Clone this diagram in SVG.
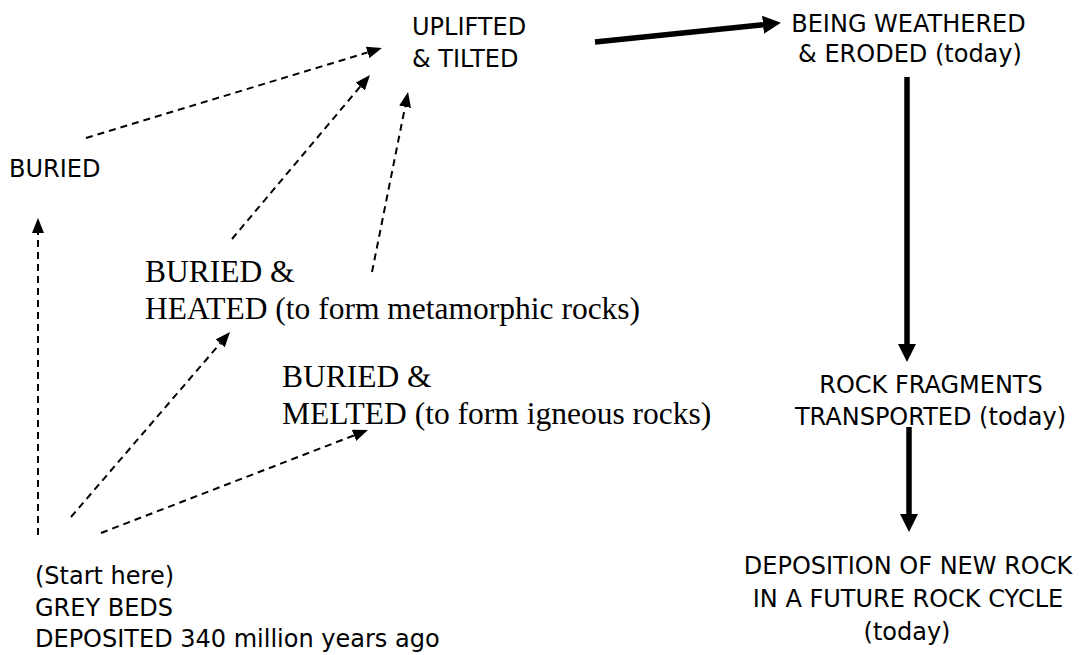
<svg xmlns="http://www.w3.org/2000/svg" width="1083" height="655" viewBox="0 0 1083 655">
<style>
.s{font-family:"DejaVu Sans",Verdana,sans-serif;font-size:24px;fill:#000}
.r{font-family:"Liberation Serif","Times New Roman",serif;font-size:31.5px;fill:#000}
.m{text-anchor:middle}
.d{stroke:#000;stroke-width:2;stroke-dasharray:7 5;fill:none}
.t{stroke:#000;stroke-width:5.5;fill:none}
</style>
<defs>
<marker id="ad" markerUnits="userSpaceOnUse" viewBox="0 0 15 12" refX="0" refY="6" markerWidth="15" markerHeight="12" orient="auto"><path d="M0,0 L15,6 L0,12 z" fill="#000"/></marker>
<marker id="at" markerUnits="userSpaceOnUse" viewBox="0 0 18 18" refX="0" refY="9" markerWidth="18" markerHeight="18" orient="auto"><path d="M0,0 L18,9 L0,18 z" fill="#000"/></marker>
</defs>
<rect width="1083" height="655" fill="#fff"/>
<g id="connectors">
<line class="d" x1="86" y1="138" x2="367.6" y2="52.4" marker-end="url(#ad)"/>
<line class="d" x1="232" y1="239" x2="360.3" y2="86.5" marker-end="url(#ad)"/>
<line class="d" x1="372" y1="272" x2="405.1" y2="106.7" marker-end="url(#ad)"/>
<line class="d" x1="38" y1="535" x2="38" y2="233" marker-end="url(#ad)"/>
<line class="d" x1="71" y1="517" x2="220.2" y2="343.4" marker-end="url(#ad)"/>
<line class="d" x1="101" y1="533" x2="354" y2="435.4" marker-end="url(#ad)"/>
<line class="t" x1="595" y1="42" x2="763" y2="24.7" marker-end="url(#at)"/>
<line class="t" x1="907" y1="77" x2="907" y2="344" marker-end="url(#at)"/>
<line class="t" x1="909" y1="427" x2="909" y2="514" marker-end="url(#at)"/>
</g>
<g id="uplifted"><text class="s" x="412" y="35">UPLIFTED</text><text class="s" x="412" y="67">&amp; TILTED</text></g>
<g id="weathered"><text class="s m" x="908.5" y="32">BEING WEATHERED</text><text class="s m" x="910" y="62">&amp; ERODED (today)</text></g>
<g id="buried"><text class="s" x="9" y="177">BURIED</text></g>
<g id="heated"><text class="r" x="145" y="282">BURIED &amp;</text><text class="r" x="145" y="319">HEATED (to form metamorphic rocks)</text></g>
<g id="melted"><text class="r" x="282" y="387">BURIED &amp;</text><text class="r" x="282" y="424">MELTED (to form igneous rocks)</text></g>
<g id="transported"><text class="s m" x="931" y="393">ROCK FRAGMENTS</text><text class="s m" x="930.5" y="425">TRANSPORTED (today)</text></g>
<g id="deposition"><text class="s m" x="908" y="574">DEPOSITION OF NEW ROCK</text><text class="s m" x="908" y="607">IN A FUTURE ROCK CYCLE</text><text class="s m" x="907" y="640">(today)</text></g>
<g id="start"><text class="s" x="35" y="584">(Start here)</text><text class="s" x="35" y="616">GREY BEDS</text><text class="s" x="35" y="647">DEPOSITED 340 million years ago</text></g>
</svg>
